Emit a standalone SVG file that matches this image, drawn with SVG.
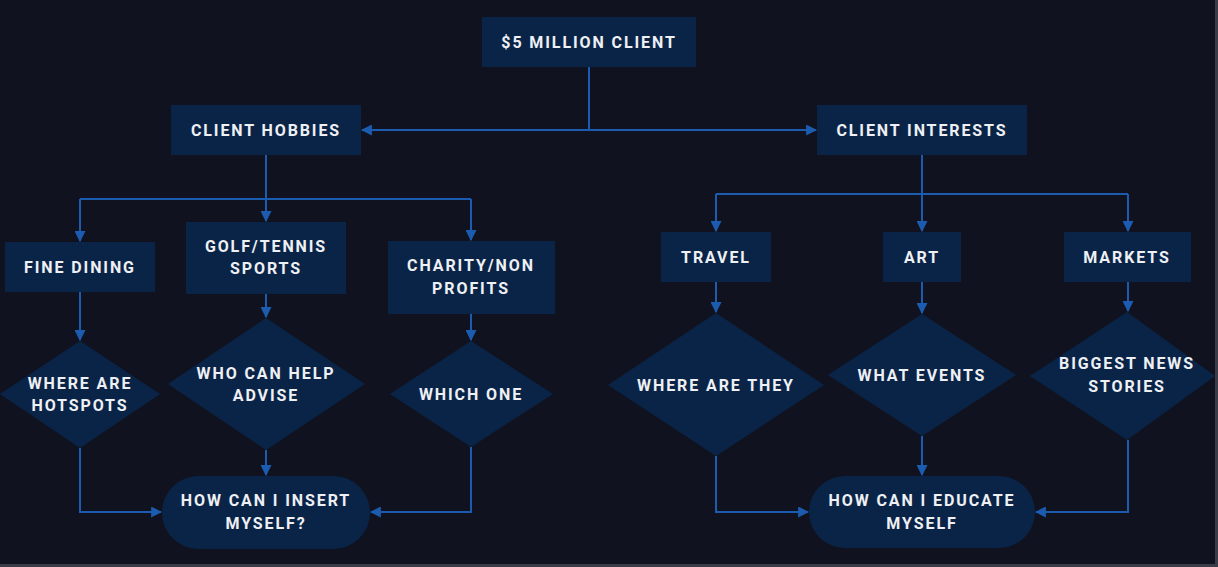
<svg xmlns="http://www.w3.org/2000/svg" width="1218" height="567" viewBox="0 0 1218 567">
<defs>
<marker id="ah" viewBox="0 0 10 10" refX="9" refY="5" markerWidth="11" markerHeight="11" markerUnits="userSpaceOnUse" orient="auto">
<path d="M0,0 L10,5 L0,10 z" fill="#1b5cb0"/>
</marker>
<style>
.bg{fill:#10131f}
.n{fill:#0a2448}
.t{font-family:Roboto,"Liberation Sans",sans-serif;font-weight:bold;font-size:16px;letter-spacing:1.9px;fill:#eef0f4;text-anchor:middle;dominant-baseline:central}
.c{fill:none;stroke:#1b5cb0;stroke-width:2}
.a{marker-end:url(#ah)}
</style>
</defs>
<rect class="bg" x="0" y="0" width="1218" height="567"/>
<rect x="0" y="564" width="1218" height="3" fill="#3a3d48"/>
<rect x="1215" y="0" width="3" height="567" fill="#3a3d48"/>

<g id="connectors">
<path class="c" d="M589,67 V130"/>
<path class="c a" d="M589,130 H362"/>
<path class="c a" d="M589,130 H816"/>
<path class="c" d="M266,155 V199 M80,199 H471"/>
<path class="c a" d="M80,199 V241"/>
<path class="c a" d="M266,155 V221"/>
<path class="c a" d="M471,199 V240"/>
<path class="c a" d="M80,292 V340"/>
<path class="c a" d="M266,294 V317"/>
<path class="c a" d="M471,314 V340"/>
<path class="c a" d="M80,448 V512 H161"/>
<path class="c a" d="M266,450 V475"/>
<path class="c a" d="M471,447 V512 H371"/>
<path class="c" d="M922,155 V194 M716,194 H1128"/>
<path class="c a" d="M716,194 V231"/>
<path class="c a" d="M922,155 V231"/>
<path class="c a" d="M1128,194 V231"/>
<path class="c a" d="M716,282 V312"/>
<path class="c a" d="M922,282 V313"/>
<path class="c a" d="M1128,282 V311"/>
<path class="c a" d="M716,456 V512 H808"/>
<path class="c a" d="M922,436 V475"/>
<path class="c a" d="M1128,440 V512 H1036"/>
</g>

<g id="client"><rect class="n" x="482" y="17" width="214" height="50"/><text class="t" x="589" y="42">$5 MILLION CLIENT</text></g>
<g id="hobbies"><rect class="n" x="171" y="105" width="190" height="50"/><text class="t" x="266" y="130">CLIENT HOBBIES</text></g>
<g id="interests"><rect class="n" x="817" y="105" width="210" height="50"/><text class="t" x="922" y="130">CLIENT INTERESTS</text></g>

<g id="dining"><rect class="n" x="5" y="242" width="150" height="50"/><text class="t" x="80" y="267">FINE DINING</text></g>
<g id="golf"><rect class="n" x="186" y="222" width="160" height="72"/><text class="t" x="266" y="246">GOLF/TENNIS</text><text class="t" x="266" y="268">SPORTS</text></g>
<g id="charity"><rect class="n" x="388" y="241" width="167" height="73"/><text class="t" x="471" y="265">CHARITY/NON</text><text class="t" x="471" y="288">PROFITS</text></g>

<g id="hotspots"><polygon class="n" points="80,341 160,394 80,448 0,394"/><text class="t" x="80" y="383">WHERE ARE</text><text class="t" x="80" y="405">HOTSPOTS</text></g>
<g id="advise"><polygon class="n" points="266,318 365,384 266,450 168,384"/><text class="t" x="266" y="373">WHO CAN HELP</text><text class="t" x="266" y="395">ADVISE</text></g>
<g id="whichone"><polygon class="n" points="471,341 553,394 471,447 390,394"/><text class="t" x="471" y="394">WHICH ONE</text></g>

<g id="insert"><rect class="n" x="162" y="476" width="208" height="73" rx="36.5"/><text class="t" x="266" y="500">HOW CAN I INSERT</text><text class="t" x="266" y="523">MYSELF?</text></g>

<g id="travel"><rect class="n" x="661" y="232" width="110" height="50"/><text class="t" x="716" y="257">TRAVEL</text></g>
<g id="art"><rect class="n" x="883" y="232" width="78" height="50"/><text class="t" x="922" y="257">ART</text></g>
<g id="markets"><rect class="n" x="1064" y="232" width="127" height="50"/><text class="t" x="1127" y="257">MARKETS</text></g>

<g id="wherearethey"><polygon class="n" points="716,313 824,385 716,456 608,385"/><text class="t" x="716" y="385">WHERE ARE THEY</text></g>
<g id="events"><polygon class="n" points="922,314 1016,375 922,436 828,375"/><text class="t" x="922" y="375">WHAT EVENTS</text></g>
<g id="news"><polygon class="n" points="1127,312 1215,376 1127,440 1030,376"/><text class="t" x="1127" y="363">BIGGEST NEWS</text><text class="t" x="1127" y="386">STORIES</text></g>

<g id="educate"><rect class="n" x="809" y="476" width="226" height="72" rx="36"/><text class="t" x="922" y="500">HOW CAN I EDUCATE</text><text class="t" x="922" y="523">MYSELF</text></g>
</svg>
